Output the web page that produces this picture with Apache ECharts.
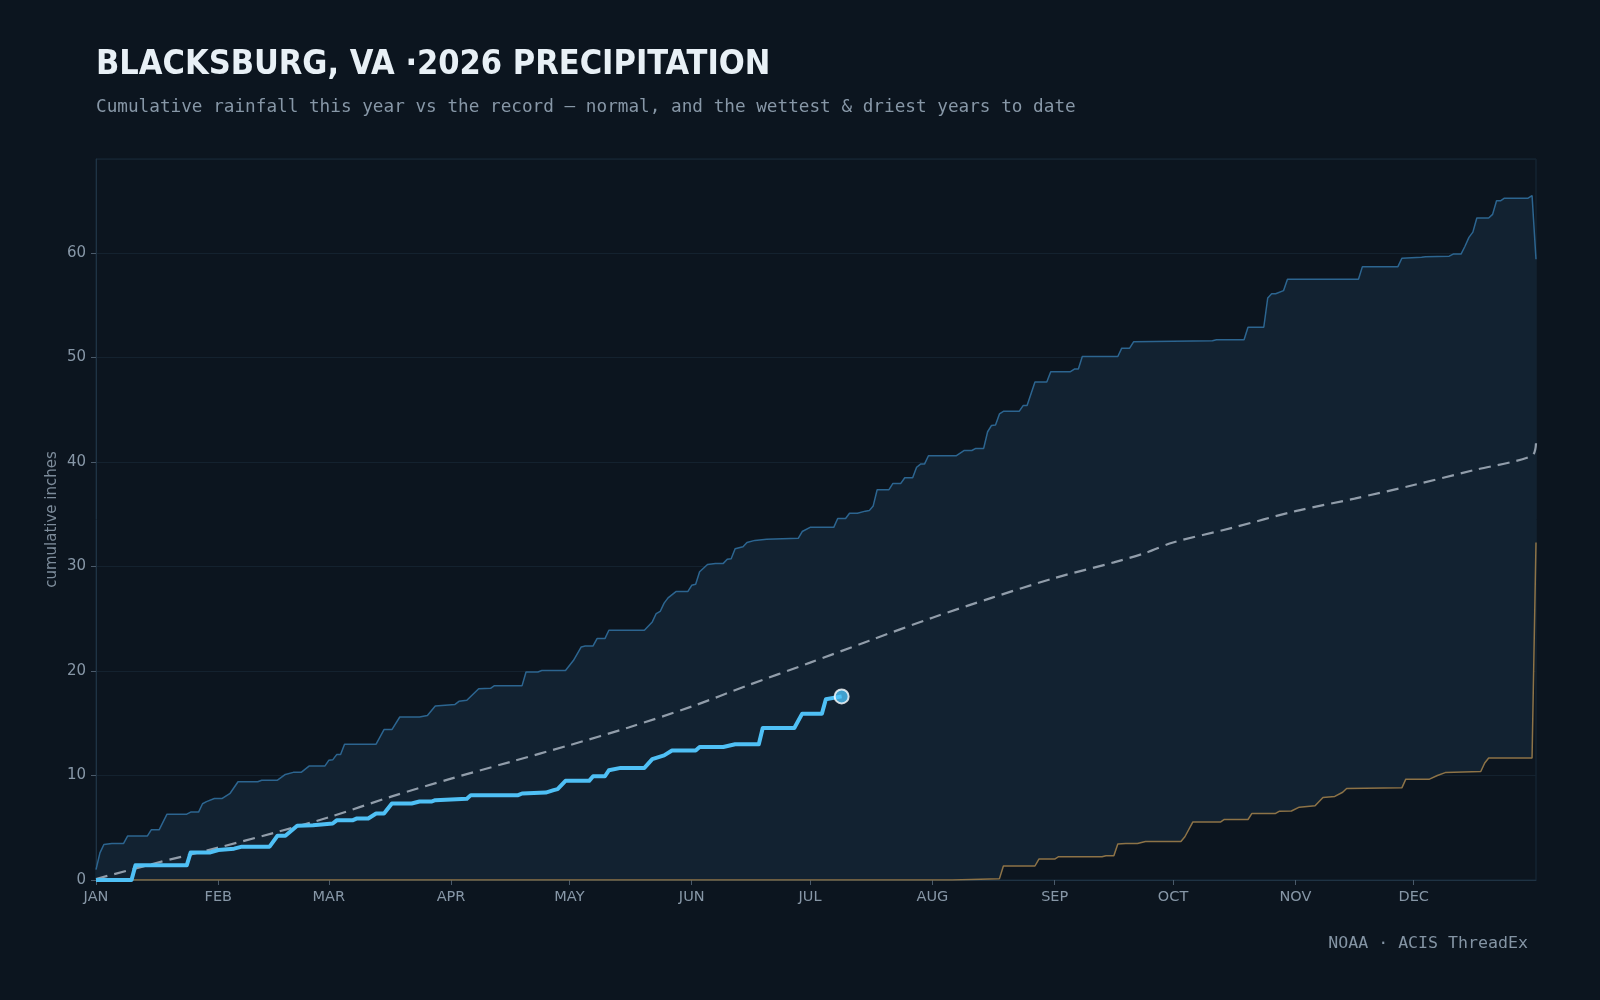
<!DOCTYPE html>
<html>
<head>
<meta charset="utf-8">
<title>Blacksburg precipitation</title>
<script src="https://cdn.jsdelivr.net/npm/echarts@6/dist/echarts.min.js"></script>
<style>
  html, body { margin: 0; padding: 0; background: #0c151f; }
  #main { width: 1600px; height: 1000px; }
</style>
</head>
<body>
<div id="main"></div>
<script>
// day of year (0 = Jan 1), cumulative inches
var monthStarts = [0, 31, 59, 90, 120, 151, 181, 212, 243, 273, 304, 334];
var monthNames = ["JAN", "FEB", "MAR", "APR", "MAY", "JUN", "JUL", "AUG", "SEP", "OCT", "NOV", "DEC"];

var thisYear = [
    [0, 0], [9, 0], [10, 1.4], [23, 1.4], [24, 2.64], [29, 2.64], [31, 2.87], [35, 3.0],
    [37, 3.19], [44, 3.19], [46, 4.23], [48, 4.23], [51, 5.19], [55, 5.25], [60, 5.4],
    [61, 5.71], [65, 5.71], [66, 5.88], [69, 5.88], [71, 6.36], [73, 6.36], [75, 7.32],
    [80, 7.32], [82, 7.51], [85, 7.51], [86, 7.64], [94, 7.77], [95, 8.12], [107, 8.12],
    [108, 8.28], [114, 8.37], [116, 8.6], [117, 8.7], [119, 9.49], [125, 9.49], [126, 9.93],
    [129, 9.93], [130, 10.5], [133, 10.73], [139, 10.73], [141, 11.56], [144, 11.93],
    [146, 12.4], [152, 12.4], [153, 12.73], [159, 12.73], [162, 12.99], [168, 12.99],
    [169, 14.55], [177, 14.55], [179, 15.92], [184, 15.92], [185, 17.29], [189, 17.57]
];

var normal = [
    [0, 0.1], [15, 1.6], [31, 3.1], [45, 4.5], [59, 6.0], [75, 8.0], [90, 9.7], [105, 11.3],
    [120, 12.9], [135, 14.6], [151, 16.6], [165, 18.6], [181, 20.8], [196, 22.9], [212, 25.1],
    [227, 27.0], [243, 28.9], [258, 30.4], [266, 31.3], [273, 32.3], [288, 33.7], [304, 35.3],
    [319, 36.5], [334, 37.8], [349, 39.2], [364, 40.6], [365, 41.8]
];

var wettest = [
    [0, 1.0], [1, 2.6], [2, 3.4], [4, 3.5], [7, 3.5], [8, 4.2], [13, 4.2], [14, 4.8], [16, 4.8],
    [18, 6.3], [23, 6.3], [24, 6.5], [26, 6.5], [27, 7.3], [28, 7.5], [30, 7.8], [32, 7.8],
    [34, 8.3], [36, 9.4], [41, 9.4], [42, 9.55], [46, 9.55], [48, 10.1], [50, 10.3], [52, 10.3],
    [54, 10.9], [58, 10.9], [59, 11.45], [60, 11.5], [61, 12.0], [62, 12.0], [63, 13.0],
    [71, 13.0], [73, 14.4], [75, 14.4], [77, 15.6], [82, 15.6], [84, 15.75], [86, 16.65],
    [91, 16.8], [92, 17.1], [94, 17.2], [97, 18.3], [100, 18.35], [101, 18.6], [108, 18.6],
    [109, 19.9], [112, 19.9], [113, 20.05], [119, 20.05], [121, 21.0], [123, 22.3], [124, 22.4],
    [126, 22.4], [127, 23.1], [129, 23.1], [130, 23.9], [139, 23.9], [141, 24.7], [142, 25.5],
    [143, 25.7], [144, 26.5], [145, 27.0], [147, 27.6], [150, 27.6], [151, 28.2], [152, 28.3],
    [153, 29.5], [155, 30.2], [157, 30.3], [159, 30.3], [160, 30.7], [161, 30.75], [162, 31.7],
    [164, 31.9], [165, 32.3], [167, 32.5], [170, 32.6], [178, 32.7], [179, 33.35], [181, 33.75],
    [187, 33.75], [188, 34.6], [190, 34.6], [191, 35.1], [193, 35.1], [195, 35.3], [196, 35.35],
    [197, 35.8], [198, 37.35], [201, 37.35], [202, 37.95], [204, 37.95], [205, 38.5], [207, 38.5],
    [208, 39.5], [209, 39.8], [210, 39.8], [211, 40.6], [218, 40.6], [220, 41.1], [222, 41.1],
    [223, 41.3], [225, 41.3], [226, 42.9], [227, 43.5], [228, 43.55], [229, 44.6], [230, 44.85],
    [234, 44.85], [235, 45.4], [236, 45.4], [238, 47.65], [241, 47.65], [242, 48.65], [247, 48.65],
    [248, 48.9], [249, 48.9], [250, 50.1], [259, 50.1], [260, 50.9], [262, 50.9], [263, 51.5],
    [283, 51.6], [284, 51.7], [291, 51.7], [292, 52.9], [296, 52.9], [297, 55.7], [298, 56.1],
    [299, 56.1], [301, 56.4], [302, 57.5], [320, 57.5], [321, 58.7], [330, 58.7], [331, 59.5],
    [336, 59.6], [337, 59.65], [343, 59.7], [344, 59.9], [346, 59.9], [347, 60.65], [348, 61.5],
    [349, 62.0], [350, 63.35], [353, 63.35], [354, 63.7], [355, 65.0], [356, 65.0], [357, 65.25],
    [363, 65.25], [364, 65.5], [365, 59.4]
];

var driest = [
    [0, 0], [217, 0], [229, 0.13], [230, 1.34], [238, 1.34], [239, 2.0], [243, 2.0], [244, 2.23],
    [255, 2.23], [256, 2.32], [258, 2.32], [259, 3.44], [261, 3.5], [264, 3.5], [266, 3.69],
    [275, 3.69], [276, 4.14], [278, 5.54], [285, 5.54], [286, 5.79], [292, 5.79], [293, 6.37],
    [299, 6.37], [300, 6.59], [303, 6.6], [305, 6.97], [309, 7.1], [311, 7.9], [314, 8.0],
    [316, 8.4], [317, 8.75], [331, 8.82], [332, 9.65], [338, 9.65], [340, 10.0], [342, 10.28],
    [351, 10.38], [352, 11.2], [353, 11.68], [364, 11.68], [365, 32.3]
];

var labelColor = "#8797a7";

var myChart = echarts.init(document.getElementById("main"));

var option = {
    backgroundColor: "#0c151f",
    animation: false,
    title: [
        {
            text: "BLACKSBURG, VA ·2026 PRECIPITATION",
            left: 96,
            top: 48,
            padding: 0,
            textStyle: {
                color: "#e8f0f6",
                fontFamily: "DejaVu Sans Condensed",
                fontWeight: "bold",
                fontSize: 34,
            },
        },
        {
            text: "Cumulative rainfall this year vs the record — normal, and the wettest & driest years to date",
            left: 96,
            top: 98,
            padding: 0,
            textStyle: {
                color: labelColor,
                fontFamily: "DejaVu Sans Mono",
                fontWeight: "normal",
                fontSize: 17.7,
            },
        },
        {
            text: "NOAA · ACIS ThreadEx",
            right: 72,
            top: 935,
            padding: 0,
            textStyle: {
                color: "#8494a4",
                fontFamily: "DejaVu Sans Mono",
                fontWeight: "normal",
                fontSize: 16.6,
            },
        },
    ],
    grid: {
        left: 96,
        right: 64,
        top: 159,
        bottom: 120,
        show: true,
        borderColor: "#172a3b",
        borderWidth: 1,
        backgroundColor: "transparent",
    },
    xAxis: {
        type: "value",
        min: 0,
        max: 365,
        axisLine: { show: true, lineStyle: { color: "#1f3344" } },
        axisTick: {
            show: true,
            customValues: monthStarts,
            length: 5,
            lineStyle: { color: "#4a5a6a" },
        },
        axisLabel: {
            customValues: monthStarts,
            color: labelColor,
            fontFamily: "DejaVu Sans",
            fontSize: 14.5,
            margin: 10,
            formatter: function (v) {
                return monthNames[monthStarts.indexOf(v)];
            },
        },
        splitLine: { show: false },
    },
    yAxis: {
        type: "value",
        min: 0,
        max: 69,
        interval: 10,
        name: "cumulative inches",
        nameLocation: "middle",
        nameGap: 36,
        nameMoveOverlap: false,
        nameTextStyle: {
            color: "#7d8c9b",
            fontFamily: "DejaVu Sans",
            fontSize: 15,
        },
        axisLine: { show: true, lineStyle: { color: "#1f3344" } },
        axisTick: { show: true, length: 5, lineStyle: { color: "#4a5a6a" } },
        axisLabel: {
            color: labelColor,
            fontFamily: "DejaVu Sans",
            fontSize: 15,
            margin: 10,
            showMaxLabel: false,
        },
        splitLine: { lineStyle: { color: "#14222f", width: 1 } },
    },
    series: [
        {
            // band between wettest and driest years
            type: "custom",
            silent: true,
            z: 1,
            data: [[0, 0]],
            renderItem: function (params, api) {
                var pts = wettest.map(function (p) { return api.coord(p); });
                var low = driest.slice().reverse().map(function (p) { return api.coord(p); });
                return {
                    type: "polygon",
                    shape: { points: pts.concat(low) },
                    style: { fill: "#122231" },
                };
            },
        },
        {
            name: "wettest",
            type: "line",
            data: wettest,
            showSymbol: false,
            z: 3,
            lineStyle: { color: "#2c6590", width: 1.5 },
        },
        {
            name: "driest",
            type: "line",
            data: driest,
            showSymbol: false,
            z: 3,
            lineStyle: { color: "#8d7347", width: 1.5 },
        },
        {
            name: "normal",
            type: "line",
            data: normal,
            showSymbol: false,
            smooth: 0.3,
            z: 4,
            lineStyle: { color: "#919daa", width: 2.2, type: [12, 7] },
        },
        {
            name: "2026",
            type: "line",
            data: thisYear,
            showSymbol: false,
            z: 5,
            lineStyle: { color: "#4fc0f5", width: 4, join: "round" },
        },
        {
            name: "latest",
            type: "scatter",
            data: [thisYear[thisYear.length - 1]],
            symbol: "circle",
            symbolSize: 14,
            z: 6,
            itemStyle: { color: "#4fc0f5", borderColor: "#ffffff", borderWidth: 2 },
        },
    ],
};

myChart.setOption(option);
</script>
</body>
</html>
